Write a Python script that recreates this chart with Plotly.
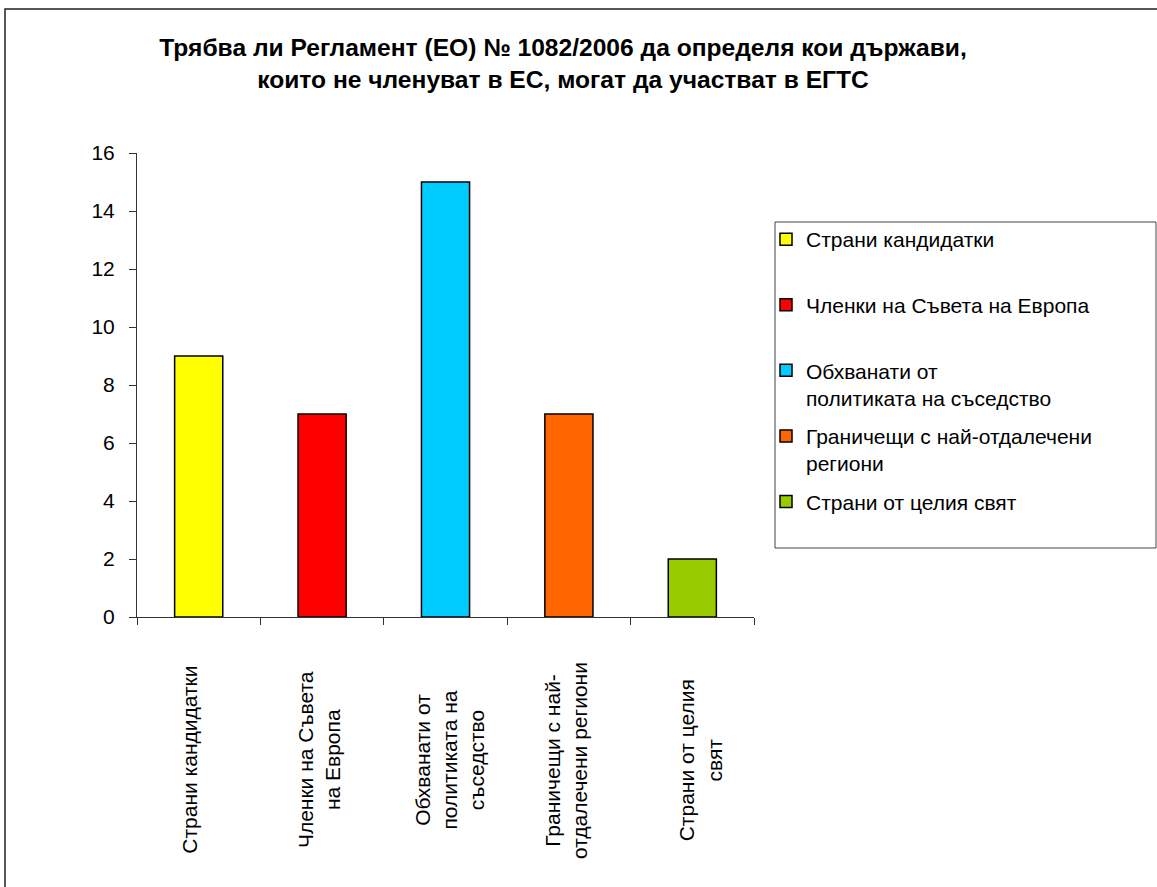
import plotly.graph_objects as go

# ---- data ----
categories = [
    "Страни кандидатки",
    "Членки на Съвета на Европа",
    "Обхванати от политиката на съседство",
    "Граничещи с най-отдалечени региони",
    "Страни от целия свят",
]
values = [9, 7, 15, 7, 2]
axis_labels = [
    "Страни кандидатки",
    "Членки на Съвета<br>на Европа",
    "Обхванати от<br>политиката на<br>съседство",
    "Граничещи с най-<br>отдалечени региони",
    "Страни от целия<br>свят",
]
legend_labels = [
    "Страни кандидатки<br> ",
    "Членки на Съвета на Европа<br> ",
    "Обхванати от<br>политиката на съседство",
    "Граничещи с най-отдалечени<br>региони",
    "Страни от целия свят<br> ",
]
colors = ["#FFFF00", "#FF0000", "#00CCFF", "#FF6600", "#99CC00"]
label_shifts = [-10, -3, 4, -3, 8]
title_text = ("<b>Трябва ли Регламент (ЕО) № 1082/2006 да определя кои държави,<br>"
              "които не членуват в ЕС, могат да участват в ЕГТС</b>")

# ---- layout geometry (pixels) ----
W, H = 1157, 887
L, R, T, B = 137, 754, 153, 617
FONT = "Liberation Sans, Arial, sans-serif"


def px_x(p):
    return (p - L) / (R - L)


def px_y(p):
    return (B - p) / (B - T)


fig = go.Figure()
for cat, val, lab, col in zip(categories, values, legend_labels, colors):
    fig.add_trace(go.Bar(
        x=[cat], y=[val], name=lab, legendgroup=cat,
        marker=dict(color=col, line=dict(color="#000000", width=1.5)),
        width=0.39,
    ))

for cat, lab, sh in zip(categories, axis_labels, label_shifts):
    fig.add_annotation(
        x=cat, xref="x", y=px_y(760), yref="paper",
        text=lab, textangle=-90, showarrow=False, xshift=sh,
        xanchor="center", yanchor="middle", align="center",
        font=dict(family=FONT, size=21, color="#000000"),
    )

# outer frame
fig.add_shape(type="rect", xref="paper", yref="paper",
              x0=px_x(5), x1=px_x(1200), y0=px_y(9), y1=px_y(950),
              line=dict(color="#222222", width=1.5), fillcolor="rgba(0,0,0,0)")
# legend box
fig.add_shape(type="rect", xref="paper", yref="paper",
              x0=px_x(775), x1=px_x(1156), y0=px_y(222), y1=px_y(548),
              line=dict(color="#444444", width=1), fillcolor="rgba(0,0,0,0)")

fig.update_layout(
    width=W, height=H,
    margin=dict(l=L, r=W - R, t=T, b=H - B, pad=0),
    paper_bgcolor="#FFFFFF", plot_bgcolor="#FFFFFF",
    barmode="overlay",
    showlegend=True,
    font=dict(family=FONT, size=21, color="#000000"),
    title=dict(text=title_text, x=563 / W, xanchor="center",
               y=1 - 56 / H, yanchor="middle", yref="container",
               font=dict(family=FONT, size=24.6, color="#000000")),
    legend=dict(x=px_x(766), xanchor="left", y=px_y(219), yanchor="top",
                traceorder="grouped", tracegroupgap=8, valign="top",
                bgcolor="rgba(0,0,0,0)", borderwidth=0,
                font=dict(family=FONT, size=21, color="#000000")),
    xaxis=dict(type="category", range=[-0.5, 4.5], showticklabels=False,
               ticks="outside", tickson="boundaries", ticklen=7,
               tickcolor="#333333", showline=True, linecolor="#333333",
               linewidth=1, showgrid=False, zeroline=False, fixedrange=True),
    yaxis=dict(range=[0, 16], dtick=2, tick0=0, ticks="outside", ticklen=7,
               tickcolor="#333333", showline=True, linecolor="#333333",
               linewidth=1, showgrid=False, zeroline=False,
               ticklabelstandoff=10,
               tickfont=dict(family=FONT, size=21, color="#000000")),
)

fig.write_html("out.html")
